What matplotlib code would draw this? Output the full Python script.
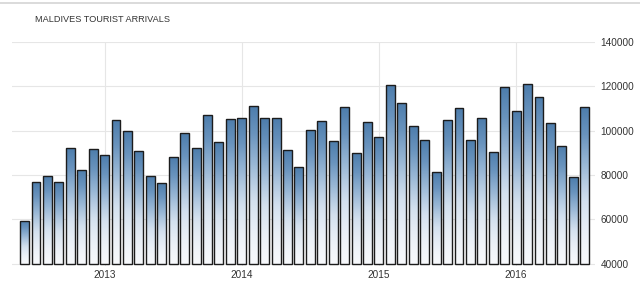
import numpy as np
import matplotlib.pyplot as plt
from matplotlib.colors import LinearSegmentedColormap
from matplotlib.lines import Line2D

# monthly tourist arrivals, Jun 2012 .. Jul 2016
arrivals = [59400, 76900, 79800, 76900, 92300, 82500, 91800,
            89000, 104800, 99800, 90800, 79500, 76500, 88200,
            98800, 92300, 107300, 95000, 105400,
            105700, 111100, 105700, 105700, 91500, 83700, 100300,
            104600, 95300, 110700, 89900, 104000,
            97300, 120600, 112600, 102200, 95600, 81400, 105000,
            110200, 95800, 105700, 90500, 119500,
            108700, 121100, 115300, 103700, 93300, 79200, 110500]
year_labels = ['2013', '2014', '2015', '2016']
year_pos = [7, 19, 31, 43]   # index of January in each year
y_ticks = [40000, 60000, 80000, 100000, 120000, 140000]

plt.rcParams['font.family'] = ['Liberation Sans', 'DejaVu Sans']

fig = plt.figure(figsize=(6.4, 2.85), dpi=100)
ax = fig.add_axes([12 / 640, 19 / 285, 583 / 640, 224 / 285])

x = np.arange(len(arrivals))
heights = [a - 40000 for a in arrivals]
bars = ax.bar(x, heights, width=0.78, bottom=40000, color='none',
              edgecolor='#1c1c1c', linewidth=1.0, zorder=3)

# vertical gradient inside every bar, light at the bottom
cmap = LinearSegmentedColormap.from_list(
    'blu', ['#f6f8fb', '#d3e0ee', '#9ab8d6', '#6a94be', '#4d7dac'])
grad = (np.linspace(0, 1, 256) ** 1.5).reshape(-1, 1)
for b in bars:
    x0, w = b.get_x(), b.get_width()
    y0, y1 = b.get_y(), b.get_y() + b.get_height()
    im = ax.imshow(grad, cmap=cmap, aspect='auto', origin='lower',
                   extent=(x0, x0 + w, y0, y1), zorder=2,
                   interpolation='bilinear')
    im.set_clip_path(b)

ax.set_xlim(-1.1, 49.9)
ax.set_ylim(39000, 140000)

ax.set_yticks(y_ticks)
ax.yaxis.tick_right()
ax.set_xticks(year_pos)
ax.set_xticklabels(year_labels)
ax.tick_params(axis='y', length=0, pad=4, labelsize=7.2, labelcolor='#333333')
ax.tick_params(axis='x', length=0, pad=3, labelsize=7.2, labelcolor='#333333')

ax.grid(True, color='#e6e6e6', linewidth=0.8, zorder=0)
for s in ax.spines.values():
    s.set_visible(False)

fig.text(35 / 640, 1 - 19 / 285, 'MALDIVES TOURIST ARRIVALS', fontsize=6.6,
         color='#333333', va='center', ha='left')
fig.add_artist(Line2D([0, 1], [1 - 2.5 / 285, 1 - 2.5 / 285],
                      color='#d4d4d4', linewidth=1.2))

fig.savefig('out.png', dpi=100)
